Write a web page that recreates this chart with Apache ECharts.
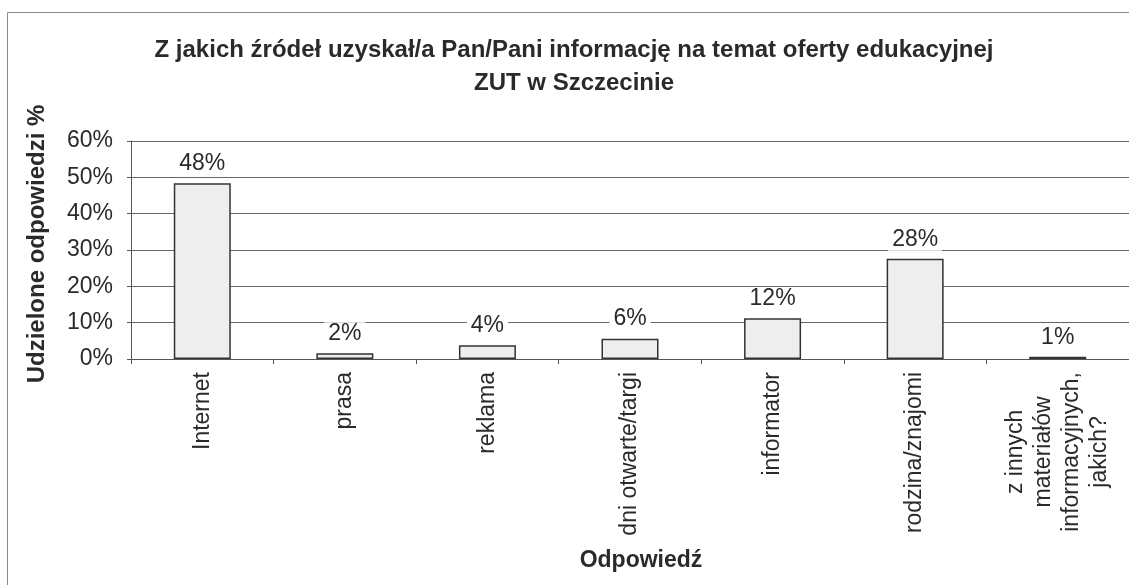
<!DOCTYPE html>
<html>
<head>
<meta charset="utf-8">
<title>Źródła informacji o ofercie edukacyjnej ZUT</title>
<script src="https://cdn.jsdelivr.net/npm/echarts@6/dist/echarts.min.js"></script>
<style>
  html, body { margin: 0; padding: 0; background: #fff; }
  #chart { width: 1129px; height: 585px; }
</style>
</head>
<body>
<div id="chart"></div>
<script>
// odpowiedzi
var categories = ['Internet', 'prasa', 'reklama', 'dni otwarte/targi', 'informator', 'rodzina/znajomi',
  'z innych\nmateriałów\ninformacyjnych,\njakich?']
// wysokosci slupkow (%)
var values = [48.4, 1.6, 3.8, 5.6, 11.2, 27.6, 0.6]
// etykiety nad slupkami
var valueLabels = ['48%', '2%', '4%', '6%', '12%', '28%', '1%']
var yTicks = [0, 10, 20, 30, 40, 50, 60]

var chart = echarts.init(document.getElementById('chart'))
var font = '"Liberation Sans", Arial, sans-serif'

chart.setOption({
  animation: false,
  textStyle: { fontFamily: font },
  title: {
    text: 'Z jakich źródeł uzyskał/a Pan/Pani informację na temat oferty edukacyjnej\nZUT w Szczecinie',
    left: 569,
    top: 29,
    textAlign: 'center',
    textStyle: {
      fontFamily: font,
      fontSize: 24,
      fontWeight: 'bold',
      color: '#2a2a2a',
      lineHeight: 33
    }
  },
  graphic: [{
    type: 'rect',
    shape: { x: 7.5, y: 12.5, width: 1140, height: 600 },
    style: { fill: 'none', stroke: '#888', lineWidth: 1 },
    silent: true
  }],
  grid: {
    left: 131,
    right: -6.5,
    top: 141,
    bottom: 226
  },
  xAxis: {
    type: 'category',
    data: categories,
    name: 'Odpowiedź',
    nameLocation: 'middle',
    nameGap: 190,
    nameTextStyle: {
      fontFamily: font,
      fontSize: 23,
      fontWeight: 'bold',
      color: '#2a2a2a',
      padding: [0, 0, 0, 22]
    },
    axisLine: { lineStyle: { color: '#555', width: 1 } },
    axisTick: { show: true, length: 5, lineStyle: { color: '#555' } },
    axisLabel: {
      interval: 0,
      rotate: 90,
      margin: 13,
      fontSize: 23,
      color: '#2a2a2a',
      lineHeight: 28,
      formatter: function(value) {
        return value.split('\n').map(function(line) {
          return '{c|' + line + '}'
        }).join('\n')
      },
      rich: {
        c: { align: 'center', fontSize: 23, lineHeight: 28, color: '#2a2a2a', fontFamily: font }
      }
    }
  },
  yAxis: {
    type: 'value',
    min: 0,
    max: 60,
    interval: 10,
    name: 'Udzielone odpowiedzi %',
    nameLocation: 'middle',
    nameGap: 82,
    nameTextStyle: {
      fontFamily: font,
      fontSize: 24,
      fontWeight: 'bold',
      color: '#2a2a2a',
      padding: [0, 0, 0, 12]
    },
    axisLine: { show: true, lineStyle: { color: '#555', width: 1 } },
    axisTick: { show: true, length: 4, lineStyle: { color: '#555' } },
    axisLabel: {
      fontSize: 23,
      color: '#2a2a2a',
      margin: 18,
      formatter: function(v) {
        return yTicks.indexOf(v) >= 0 ? v + '%' : ''
      }
    },
    splitLine: { show: true, lineStyle: { color: '#666', width: 1 } }
  },
  series: [{
    name: 'Odpowiedzi',
    type: 'bar',
    data: values,
    barWidth: 57,
    itemStyle: {
      color: '#eeeeee',
      borderColor: '#333',
      borderWidth: 1.5
    },
    label: {
      show: true,
      position: 'top',
      distance: 8,
      fontSize: 23,
      color: '#2a2a2a',
      backgroundColor: '#fff',
      padding: [0, 4],
      formatter: function(p) {
        return valueLabels[p.dataIndex]
      }
    }
  }]
})
</script>
</body>
</html>
